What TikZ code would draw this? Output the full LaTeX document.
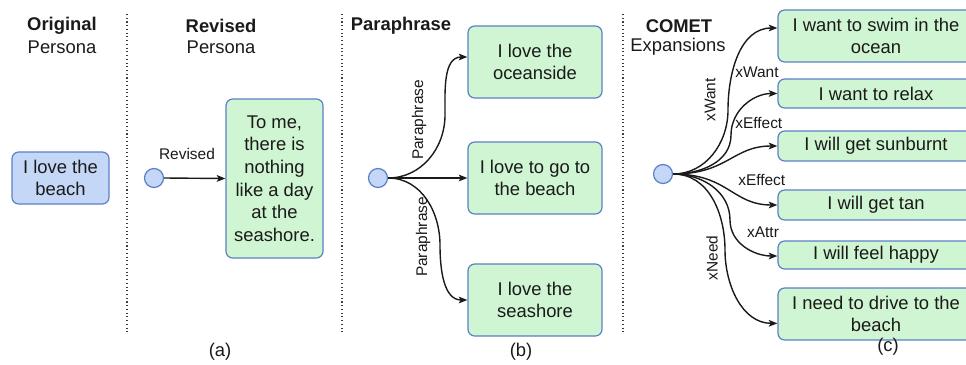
\documentclass[tikz,border=0pt]{standalone}
\usepackage{fontspec}
\setmainfont{Liberation Sans}
\usetikzlibrary{arrows.meta}
\definecolor{bluefill}{HTML}{C5D7F6}
\definecolor{bluestroke}{HTML}{5B80C6}
\definecolor{greenfill}{HTML}{CFF5D2}
\definecolor{ink}{HTML}{1A1A1A}

\begin{document}
\begin{tikzpicture}[x=0.75pt,y=-0.75pt,
  box/.style={draw=bluestroke, line width=0.9pt, rounded corners=5pt, inner sep=0pt,
    align=center, font=\fontsize{13.8}{16.9}\selectfont, text=ink},
  persona/.style={box, fill=bluefill},
  gbox/.style={box, fill=greenfill},
  hub/.style={circle, draw=bluestroke, fill=bluefill, line width=0.9pt,
    minimum size=14.25pt, inner sep=0pt},
  edge/.style={-{Stealth[length=6.5pt,width=5pt,inset=1.5pt]}, line width=1.05pt, draw=ink},
  lbl/.style={font=\fontsize{11.6}{13}\selectfont, text=ink, inner sep=0pt},
  head/.style={font=\fontsize{13.8}{16}\selectfont\bfseries, text=ink, inner sep=0pt},
  sub/.style={font=\fontsize{13.8}{16}\selectfont, text=ink, inner sep=0pt},
  sep/.style={draw=ink!85, line width=0.8pt, dash pattern=on 0.8pt off 2pt}
]
\useasboundingbox (0,0) rectangle (966,364);
\clip (0,0) rectangle (966,364);

% column separators
\coordinate (s1t) at (127,14); \coordinate (s1b) at (127,333);
\coordinate (s2t) at (342,14); \coordinate (s2b) at (342,333);
\coordinate (s3t) at (623,14); \coordinate (s3b) at (623,333);
\draw[sep] (s1t) -- (s1b);
\draw[sep] (s2t) -- (s2b);
\draw[sep] (s3t) -- (s3b);

% headers
\node[head] (h1) at (62,26) {Original};
\node[sub]  (h1b) at (62,47) {Persona};
\node[head] (h2) at (221,26) {Revised};
\node[sub]  (h2b) at (221,47) {Persona};
\node[head] (h3) at (401,26) {Paraphrase};
\node[head] (h4) at (679,26) {COMET};
\node[sub]  (h4b) at (678,47) {Expansions};

% original persona
\node[persona, minimum width=72.75pt, minimum height=39pt] (orig) at (60.5,178) {I love the\\beach};

% (a) revised
\node[hub] (rh) at (154,178) {};
\node[gbox, minimum width=72.75pt, minimum height=119.25pt] (ra) at (274.5,178.5)
  {To me,\\there is\\nothing\\like a day\\at the\\seashore.};
\draw[edge] (rh.east) -- (ra.west);
\node[lbl] (rl) at (187,154) {Revised};
\node[sub] (capa) at (220,352) {(a)};

% (b) paraphrase
\node[hub] (ph) at (378,178) {};
\node[gbox, minimum width=100.5pt, minimum height=54pt] (p1) at (535,62) {I love the\\oceanside};
\node[gbox, minimum width=100.5pt, minimum height=54pt] (p2) at (535,178) {I love to go to\\the beach};
\node[gbox, minimum width=100.5pt, minimum height=54pt] (p3) at (535,300) {I love the\\seashore};
\draw[edge] (ph.east) to[out=0,in=-90] (445,115) to[out=90,in=180] ([yshift=3.75pt]p1.west);
\draw[edge] (ph.east) -- (p2.west);
\draw[edge] (ph.east) to[out=0,in=90] (440,245) to[out=-90,in=180] (p3.west);
\node[lbl, rotate=90] (pl1) at (419,120) {Paraphrase};
\node[lbl, rotate=90] (pl2) at (423,237) {Paraphrase};
\node[sub] (capb) at (521,352) {(b)};

% (c) COMET expansions
\node[hub] (ch) at (663,174) {};
\node[gbox, minimum width=147pt, minimum height=39pt]    (c1) at (876,36)    {I want to swim in the\\ocean};
\node[gbox, minimum width=147pt, minimum height=21.75pt] (c2) at (876,93.5)  {I want to relax};
\node[gbox, minimum width=147pt, minimum height=22.5pt]  (c3) at (876,146)   {I will get sunburnt};
\node[gbox, minimum width=147pt, minimum height=22.5pt]  (c4) at (876,205)   {I will get tan};
\node[gbox, minimum width=147pt, minimum height=21pt]    (c5) at (876,255)   {I will feel happy};
\node[gbox, minimum width=147pt, minimum height=39pt]    (c6) at (876,314)   {I need to drive to the\\beach};

\draw[edge] (ch.east) to[out=0,in=-90] (728,110) to[out=90,in=180] ([yshift=6pt]c1.west);
\draw[edge] (ch.east) to[out=0,in=-90] (731,135) to[out=90,in=180] (c2.west);
\draw[edge] (ch.east) .. controls +(55,0) and +(-45,0) .. (c3.west);
\draw[edge] (ch.east) .. controls +(55,0) and +(-45,0) .. (c4.west);
\draw[edge] (ch.east) to[out=0,in=90] (730,220) to[out=-90,in=180] ([yshift=-0.75pt]c5.west);
\draw[edge] (ch.east) to[out=0,in=90] (725,250) to[out=-90,in=180] ([yshift=-7pt]c6.west);

\node[lbl, rotate=90] (cl1) at (710,100) {xWant};
\node[lbl] (cl2) at (757,72)  {xWant};
\node[lbl, anchor=west] (cl3) at (735,123) {xEffect};
\node[lbl, anchor=west] (cl4) at (738,180) {xEffect};
\node[lbl] (cl5) at (763,232) {xAttr};
\node[lbl, rotate=90] (cl6) at (712,258) {xNeed};
\node[sub] (capc) at (888,347) {(c)};
\end{tikzpicture}
\end{document}
